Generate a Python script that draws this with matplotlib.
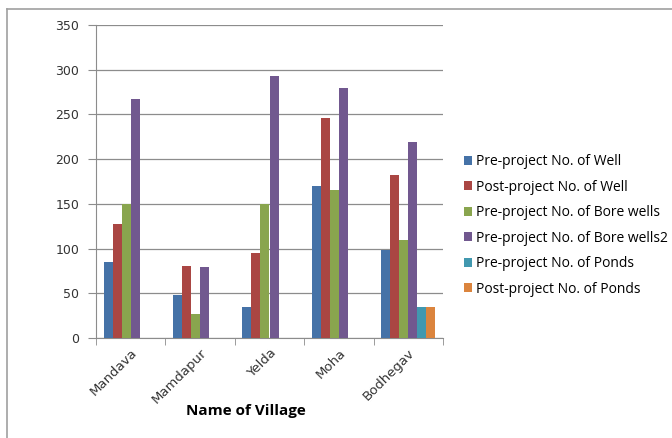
import matplotlib
matplotlib.use("Agg")
import matplotlib.pyplot as plt
import numpy as np
from matplotlib.lines import Line2D
from matplotlib.patches import Patch

villages = ["Mandava", "Mamdapur", "Yelda", "Moha", "Bodhegav"]
series_names = ["Pre-project No. of Well", "Post-project No. of Well",
                "Pre-project No. of Bore wells", "Pre-project No. of Bore wells2",
                "Pre-project No. of Ponds", "Post-project No. of Ponds"]
pre_well = [85, 48, 35, 170, 98]
post_well = [127, 81, 95, 246, 182]
pre_bore = [150, 27, 150, 165, 110]
pre_bore2 = [267, 79, 293, 280, 219]
pre_ponds = [0, 0, 0, 0, 35]
post_ponds = [0, 0, 0, 0, 35]
series = [pre_well, post_well, pre_bore, pre_bore2, pre_ponds, post_ponds]
colors = ["#4572A7", "#AA4643", "#89A54E", "#71588F", "#4198AF", "#DB843D"]
yticks = [0, 50, 100, 150, 200, 250, 300, 350]

fig = plt.figure(figsize=(6.72, 4.38), dpi=100)
ax = fig.add_axes([96/672, 1-338/438, (443-96)/672, (338-25)/438])

x = np.arange(len(villages))
bw = 0.13
for j, (vals, c) in enumerate(zip(series, colors)):
    vals = np.array(vals, dtype=float)
    vals[vals == 0] = np.nan
    ax.bar(x - 0.39 + bw/2 + j*bw, vals, width=bw, color=c, linewidth=0, zorder=3)

ax.set_xlim(-0.5, len(villages) - 0.5)
ax.set_ylim(0, 350)
ax.set_yticks(yticks)
ax.yaxis.grid(True, color="#8c8c8c", linewidth=0.9, zorder=0)
ax.tick_params(axis="y", direction="out", length=6, color="#8c8c8c", labelsize=9,
               labelcolor="#333333", pad=6)
ax.set_xticks(x)
ax.set_xticklabels(villages, rotation=45, ha="right", va="top", rotation_mode="anchor",
                   fontsize=9.5, color="#333333")
ax.set_xticks(np.arange(-0.5, len(villages)), minor=True)
ax.tick_params(axis="x", which="major", length=0, pad=6)
ax.tick_params(axis="x", which="minor", direction="out", length=5, color="#8c8c8c")
for s in ["top", "right"]:
    ax.spines[s].set_visible(False)
ax.spines["left"].set_color("#8c8c8c")
ax.spines["bottom"].set_color("#8c8c8c")

fig.text(246/672, 1-411/438, "Name of Village", ha="center", va="center",
         fontsize=11, fontweight="bold", family="Open Sans")

handles = [Patch(facecolor=c, edgecolor="none") for c in colors]
fig.legend(handles, series_names, loc="upper left", bbox_to_anchor=(464/672, 1-154/438),
           frameon=False, prop={"family": "Open Sans", "size": 10},
           handlelength=0.6, handleheight=0.6, handletextpad=0.3, labelspacing=0.76,
           borderaxespad=0, borderpad=0)

# outer chart border
fig.add_artist(Line2D([7/672, 7/672], [0, 1-9/438], transform=fig.transFigure,
                      color="#a0a0a0", linewidth=1.2))
fig.add_artist(Line2D([7/672, 1], [1-9/438, 1-9/438], transform=fig.transFigure,
                      color="#a0a0a0", linewidth=1.2))

fig.savefig("out.png", dpi=100)
